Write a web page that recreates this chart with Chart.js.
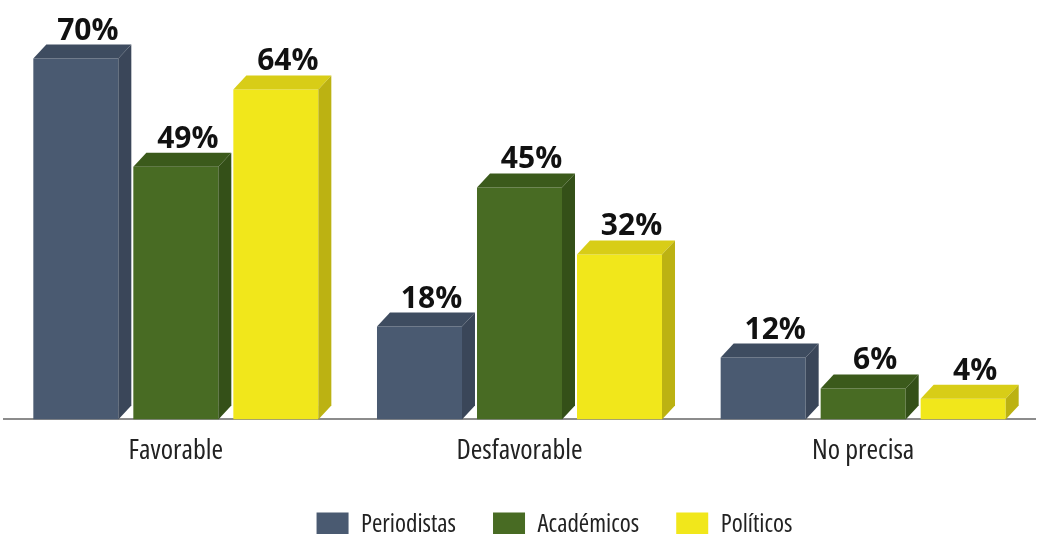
<!DOCTYPE html>
<html>
<head>
<meta charset="utf-8">
<script src="https://cdn.jsdelivr.net/npm/chart.js@4/dist/chart.umd.min.js"></script>
<style>
  html, body { margin: 0; padding: 0; background: #fff; }
  #wrap { width: 1043px; height: 534px; position: relative; }
</style>
</head>
<body>
<div id="wrap"><canvas id="chart"></canvas></div>
<script>
'use strict';

const categories = ['Favorable', 'Desfavorable', 'No precisa'];
const seriesNames = ['Periodistas', 'Académicos', 'Políticos'];

const periodistas = [70, 18, 12];
const academicos = [49, 45, 6];
const politicos = [64, 32, 4];

// front, top and side shades for each series
const shades = [
    { front: '#4a5a71', top: '#3e4c60', side: '#3a4659' },
    { front: '#486b23', top: '#3b5a1b', side: '#345018' },
    { front: '#f1e71b', top: '#d8cd17', side: '#bcb212' }
];

const depthX = 13;
const depthY = 14;

// "condensed" goes in the weight slot so that it ends up in the canvas font string
const narrowFont = function(size) {
    return { family: "'Open Sans', 'Roboto Condensed', sans-serif", weight: 'condensed', size: size };
};

// gives every bar a top and a right face, then prints its value
const boxes = {
    id: 'boxes',
    afterDatasetsDraw(chart) {
        const ctx = chart.ctx;
        ctx.save();
        chart.data.datasets.forEach(function(ds, i) {
            const meta = chart.getDatasetMeta(i);
            const shade = shades[i];
            meta.data.forEach(function(bar, j) {
                const x0 = bar.x - bar.width / 2;
                const x1 = bar.x + bar.width / 2;
                const top = bar.y;
                const base = bar.base;

                ctx.fillStyle = shade.top;
                ctx.beginPath();
                ctx.moveTo(x0, top);
                ctx.lineTo(x0 + depthX, top - depthY);
                ctx.lineTo(x1 + depthX, top - depthY);
                ctx.lineTo(x1, top);
                ctx.closePath();
                ctx.fill();

                ctx.fillStyle = shade.side;
                ctx.beginPath();
                ctx.moveTo(x1, top);
                ctx.lineTo(x1 + depthX, top - depthY);
                ctx.lineTo(x1 + depthX, base - depthY);
                ctx.lineTo(x1, base);
                ctx.closePath();
                ctx.fill();

                ctx.fillStyle = '#111';
                ctx.font = "bold 30px 'Open Sans', sans-serif";
                ctx.textAlign = 'center';
                ctx.textBaseline = 'alphabetic';
                ctx.fillText(ds.data[j] + '%', bar.x + 12, top - depthY - 5);
            });
        });
        ctx.restore();
    }
};

// the legend row sits a little right of the page centre
const legendShift = {
    id: 'legendShift',
    afterLayout(chart) {
        chart.legend.left += 35;
        chart.legend.right += 35;
    }
};

new Chart(document.getElementById('chart'), {
    type: 'bar',
    data: {
        labels: categories,
        datasets: [
            { label: seriesNames[0], data: periodistas, backgroundColor: shades[0].front },
            { label: seriesNames[1], data: academicos, backgroundColor: shades[1].front },
            { label: seriesNames[2], data: politicos, backgroundColor: shades[2].front }
        ].map(function(d) {
            return Object.assign(d, { categoryPercentage: 0.873, barPercentage: 0.85, borderWidth: 0 });
        })
    },
    options: {
        responsive: true,
        maintainAspectRatio: false,
        animation: false,
        // the legend's lower padding is allowed to run off the bottom edge
        layout: { padding: { top: 7, left: 4, right: 8, bottom: -13 } },
        scales: {
            x: {
                grid: { display: false },
                border: { display: true, color: '#8c8c8c', width: 2 },
                ticks: { color: '#222', font: narrowFont(28), padding: 7 }
            },
            y: {
                display: false,
                min: 0,
                max: 80
            }
        },
        plugins: {
            legend: {
                position: 'bottom',
                labels: {
                    boxWidth: 32,
                    boxHeight: 24,
                    padding: 37,
                    color: '#222',
                    font: narrowFont(25)
                }
            },
            tooltip: { enabled: false }
        }
    },
    plugins: [boxes, legendShift]
});
</script>
</body>
</html>
